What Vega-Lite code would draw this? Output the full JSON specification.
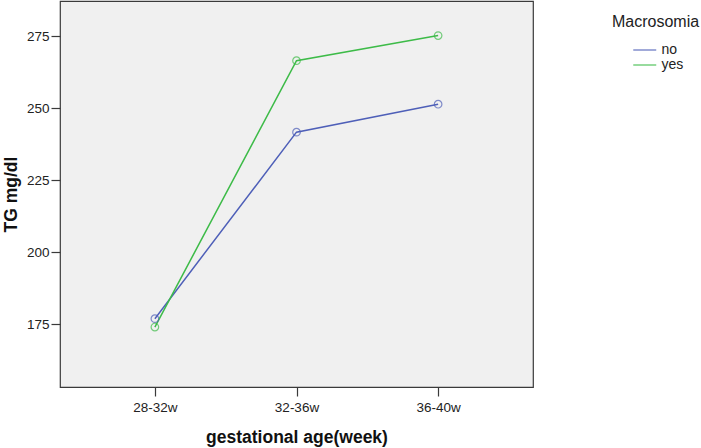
{
  "$schema": "https://vega.github.io/schema/vega-lite/v6.json",
  "width": 473,
  "height": 386,
  "autosize": "none",
  "padding": {"left": 60, "top": 1, "right": 168, "bottom": 61},
  "background": "#ffffff",
  "config": {
    "font": "Liberation Sans",
    "view": {"fill": "#f0f0f0", "stroke": "#3a3a3a", "strokeWidth": 1.2},
    "axis": {"grid": false, "domain": false, "tickColor": "#3a3a3a", "tickSize": 9, "tickWidth": 1.2, "labelFont": "Liberation Sans", "labelFontSize": 13.5, "labelColor": "#222", "titleFont": "Liberation Sans", "titleFontSize": 17.5, "titleFontWeight": "bold", "titleColor": "#111"}
  },
  "data": {
    "values": [
      {"age": "28-32w", "Macrosomia": "no", "TG": 177.0},
      {"age": "32-36w", "Macrosomia": "no", "TG": 241.7},
      {"age": "36-40w", "Macrosomia": "no", "TG": 251.4},
      {"age": "28-32w", "Macrosomia": "yes", "TG": 174.1},
      {"age": "32-36w", "Macrosomia": "yes", "TG": 266.5},
      {"age": "36-40w", "Macrosomia": "yes", "TG": 275.2}
    ]
  },
  "encoding": {
    "x": {"field": "age", "type": "ordinal", "scale": {"type": "point", "padding": 0.67}, "axis": {"title": "gestational age(week)", "labelAngle": 0, "labelPadding": 4, "titlePadding": 15}},
    "y": {"field": "TG", "type": "quantitative", "scale": {"domain": [153.3, 287.2], "nice": false, "zero": false}, "axis": {"title": "TG mg/dl", "values": [175, 200, 225, 250, 275], "labelPadding": 2, "titlePadding": 6}},
    "color": {"field": "Macrosomia", "type": "nominal", "scale": {"domain": ["no", "yes"], "range": ["#4E5FB8", "#3DBB48"]},
      "legend": {"orient": "none", "legendX": 552, "legendY": 13, "title": "Macrosomia", "titleFontSize": 16, "titleFontWeight": "normal", "titleColor": "#222", "labelFontSize": 14, "labelColor": "#222", "symbolType": "M-2,0H2", "symbolSize": 132, "symbolStrokeWidth": 1.5, "symbolOffset": 25.75, "rowPadding": 1, "titlePadding": 13, "labelOffset": 9.75}}
  },
  "layer": [
    {"mark": {"type": "line", "strokeWidth": 1.5}},
    {"mark": {"type": "point", "filled": false, "size": 57, "strokeWidth": 1.2}}
  ]
}
